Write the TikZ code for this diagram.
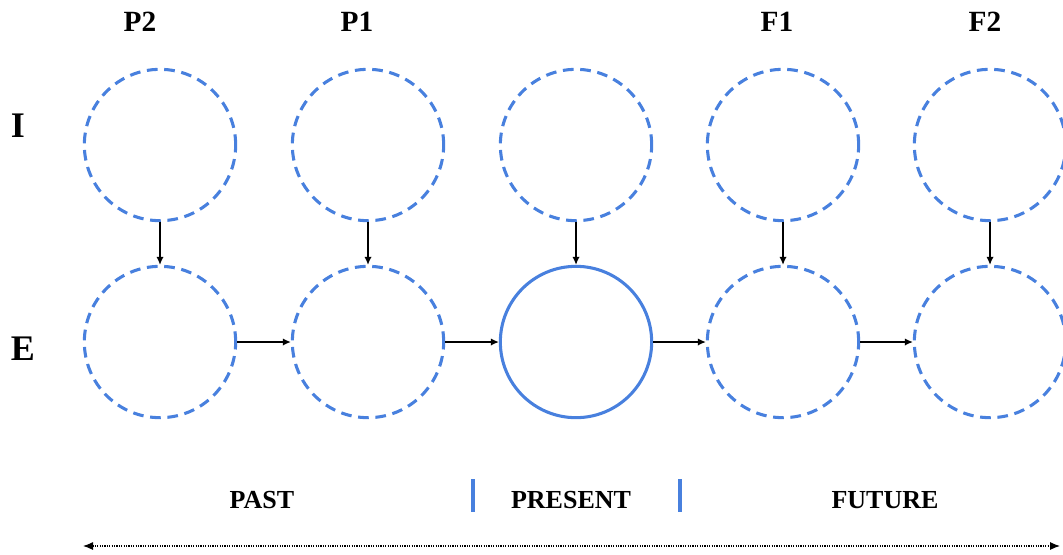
\documentclass[tikz,border=0pt]{standalone}
\usepackage{fontspec}
\setmainfont{Liberation Serif}
\usetikzlibrary{arrows.meta, positioning}
\definecolor{stateblue}{RGB}{72,128,222}

\begin{document}
\begin{tikzpicture}[x=0.75pt, y=-0.75pt,
    state/.style={circle, draw=stateblue, line width=2.3pt, dash pattern=on 8pt off 5pt,
        minimum size=113.5pt, inner sep=0pt},
    now/.style={circle, draw=stateblue, line width=2.3pt, minimum size=113.5pt, inner sep=0pt},
    link/.style={-{Latex[length=6pt, width=5.5pt]}, line width=0.9pt},
    head/.style={font=\bfseries\fontsize{22}{26}\selectfont},
    row/.style={font=\bfseries\fontsize{27}{30}\selectfont},
    era/.style={font=\bfseries\fontsize{19.5}{22}\selectfont}]
    \useasboundingbox (0,0) rectangle (1063,554);

    % Column and row labels
    \node[head] (p2) at (140,22) {P2};
    \node[head] (p1) at (357,22) {P1};
    \node[head] (f1) at (777,22) {F1};
    \node[head] (f2) at (985,22) {F2};
    \node[row] (rowi) at (18,126) {I};
    \node[row] (rowe) at (23,349) {E};

    % Top row
    \node[state] (i1) at (160,145) {};
    \node[state] (i2) at (368,145) {};
    \node[state] (i3) at (576,145) {};
    \node[state] (i4) at (783,145) {};
    \node[state] (i5) at (990,145) {};

    % Bottom row, middle one is the present
    \node[state] (e1) at (160,342) {};
    \node[state] (e2) at (368,342) {};
    \node[now]   (e3) at (576,342) {};
    \node[state] (e4) at (783,342) {};
    \node[state] (e5) at (990,342) {};

    % Links
    \draw[link] (i1.south) -- (e1.north);
    \draw[link] (i2.south) -- (e2.north);
    \draw[link] (i3.south) -- (e3.north);
    \draw[link] (i4.south) -- (e4.north);
    \draw[link] (i5.south) -- (e5.north);
    \draw[link] (e1.east) -- (e2.west);
    \draw[link] (e2.east) -- (e3.west);
    \draw[link] (e3.east) -- (e4.west);
    \draw[link] (e4.east) -- (e5.west);

    % Timeline
    \node[era] (past) at (262,500) {PAST};
    \node[era] (present) at (571,500) {PRESENT};
    \node[era] (future) at (885,500) {FUTURE};
    \draw[stateblue, line width=2.3pt] (473,479) -- (473,512);
    \draw[stateblue, line width=2.3pt] (680,479) -- (680,512);
    \coordinate (tstart) at (83,546);
    \coordinate (tend) at (1060,546);
    \draw[{Latex[length=7.5pt, width=6pt]}-{Latex[length=7.5pt, width=6pt]}, densely dotted, line width=0.8pt] (tstart) -- (tend);
\end{tikzpicture}
\end{document}
